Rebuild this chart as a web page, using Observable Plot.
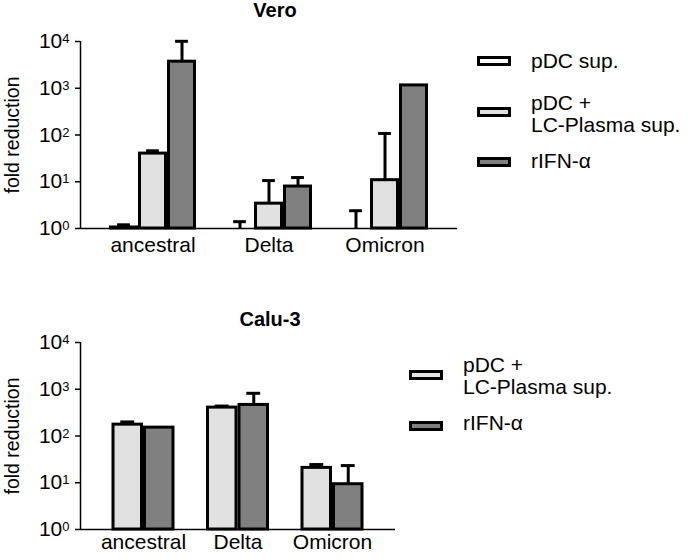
<!DOCTYPE html>
<html><head><meta charset="utf-8">
<script src="https://cdn.jsdelivr.net/npm/d3@7"></script>
<script src="https://cdn.jsdelivr.net/npm/@observablehq/plot@0.6"></script>
<style>
body{margin:0;background:#fff;}
#root{position:relative;width:688px;height:560px;font-family:"Liberation Sans",Arial,sans-serif;overflow:hidden;}
#root > div.p{position:absolute;left:0;}
#overlay{position:absolute;left:0;top:0;pointer-events:none;}
</style></head><body><div id="root"></div>
<script>
// ---- data ----
const categories = ["ancestral", "Delta", "Omicron"];
const seriesNames = ["pDC sup.", "pDC + LC-Plasma sup.", "rIFN-α"];
const seriesLegendLines = [["pDC sup."], ["pDC +", "LC-Plasma sup."], ["rIFN-α"]];
const seriesColors = ["#ffffff", "#e1e1e1", "#808080"];

// Vero (mean and upper error)
const veroSeries = ["pDC sup.", "pDC + LC-Plasma sup.", "rIFN-α"];
const veroPDC = [1.05, 1.0, 1.0];
const veroPDCUpper = [1.2, 1.4, 2.4];
const veroLC = [40, 3.4, 10.8];
const veroLCUpper = [46, 10.6, 108];
const veroIFN = [3700, 7.9, 1150];
const veroIFNUpper = [10100, 12.3, null];

// Calu-3
const caluSeries = ["pDC + LC-Plasma sup.", "rIFN-α"];
const caluLC = [175, 405, 20.8];
const caluLCUpper = [200, 437, 24.5];
const caluIFN = [151, 462, 9.3];
const caluIFNUpper = [null, 820, 23.3];

const yTicks = [1, 10, 100, 1000, 10000];

const FONT = "Liberation Sans, Arial, sans-serif";

function panel(series, values, uppers, o) {
  const nS = series.length;
  const rows = [];
  series.forEach((s, j) => categories.forEach((c, g) => rows.push({
    category: c, series: s, pos: g * (nS + 1) + j, value: values[j][g], upper: uppers[j][g]
  })));
  const xDomain = [-1.5, (categories.length - 1) * (nS + 1) + (nS - 1) + 1.5];
  const tickPos = categories.map((c, g) => g * (nS + 1) + (nS - 1) / 2);
  const err = rows.filter(d => d.upper != null);
  const svg = Plot.plot({
    width: o.width, height: o.height,
    marginLeft: 80, marginRight: o.marginRight, marginTop: o.marginTop, marginBottom: o.marginBottom,
    style: {fontFamily: FONT, fontSize: "21px", color: "#000", background: "transparent", overflow: "visible"},
    x: {type: "linear", domain: xDomain, axis: null},
    y: {type: "log", domain: [1, 10000], axis: null},
    color: {domain: seriesNames, range: seriesColors},
    marks: [
      Plot.ruleX(err, {x: "pos", y1: "value", y2: "upper", stroke: "#000", strokeWidth: 3}),
      Plot.ruleY(err, {y: "upper", x1: d => d.pos - 0.22, x2: d => d.pos + 0.22, stroke: "#000", strokeWidth: 3}),
      Plot.rect(rows.filter(d => d.value > 1), {
        x1: d => d.pos - 0.5, x2: d => d.pos + 0.5, y1: () => 1, y2: "value",
        fill: "series", stroke: "#000", strokeWidth: 3, insetLeft: 1.5, insetRight: 1.5
      }),
      Plot.ruleY([1], {stroke: "#000", strokeWidth: 1.5}),
      Plot.ruleX([xDomain[0]], {stroke: "#000", strokeWidth: 1.5}),
      Plot.axisY({
        ticks: yTicks, tickSize: 5, tickPadding: 6, strokeWidth: 1.5,
        tickFormat: d => "10^" + Math.round(Math.log10(d)),
        label: "fold reduction", labelAnchor: "center", labelArrow: "none", labelOffset: 75, fontSize: 21
      }),
      Plot.axisX({
        ticks: tickPos, tickSize: 0, tickPadding: o.xPad,
        tickFormat: d => categories[tickPos.indexOf(d)], label: null, fontSize: 21
      })
    ]
  });
  // superscript exponents on y tick labels
  d3.select(svg).selectAll('g[aria-label="y-axis tick label"] text').each(function() {
    const t = this.textContent;
    if (t.indexOf("^") < 0) return;
    const [base, exp] = t.split("^");
    this.textContent = base;
    d3.select(this).append("tspan").attr("dy", -5).attr("font-size", 13).text(exp);
  });
  // label font size
  d3.select(svg).selectAll('g[aria-label="y-axis label"] text').attr("font-size", 19.5);
  return svg;
}

const root = document.getElementById("root");

const p1 = document.createElement("div"); p1.className = "p"; p1.style.top = "0px";
p1.appendChild(panel(veroSeries, [veroPDC, veroLC, veroIFN], [veroPDCUpper, veroLCUpper, veroIFNUpper],
  {width: 460, height: 268, marginRight: 3, marginTop: 41, marginBottom: 40, xPad: 9}));
root.appendChild(p1);

const p2 = document.createElement("div"); p2.className = "p"; p2.style.top = "300px";
p2.appendChild(panel(caluSeries, [caluLC, caluIFN], [caluLCUpper, caluIFNUpper],
  {width: 398, height: 260, marginRight: 3, marginTop: 42, marginBottom: 31, xPad: 5}));
root.appendChild(p2);

// ---- titles and legends ----
const ov = d3.select(root).append("svg").attr("id", "overlay")
  .attr("width", 688).attr("height", 560)
  .attr("font-family", FONT);

ov.append("text").attr("x", 275).attr("y", 17).attr("text-anchor", "middle")
  .attr("font-weight", "bold").attr("font-size", 20).text("Vero");
ov.append("text").attr("x", 270).attr("y", 326).attr("text-anchor", "middle")
  .attr("font-weight", "bold").attr("font-size", 20).text("Calu-3");

function legend(series, sx, tx, entries) {
  series.forEach((s, i) => {
    const k = seriesNames.indexOf(s);
    const e = entries[i];
    ov.append("rect").attr("x", sx + 1.5).attr("y", e.cy - 3.5).attr("width", 31).attr("height", 7)
      .attr("fill", seriesColors[k]).attr("stroke", "#000").attr("stroke-width", 3);
    seriesLegendLines[k].forEach((line, li) => {
      ov.append("text").attr("x", tx).attr("y", e.base + li * 22).attr("font-size", 21).text(line);
    });
  });
}
legend(veroSeries, 477, 531, [{cy: 61, base: 68}, {cy: 112, base: 110}, {cy: 162, base: 168}]);
legend(caluSeries, 409, 463, [{cy: 375, base: 372}, {cy: 426, base: 430}]);
</script>
</body></html>
